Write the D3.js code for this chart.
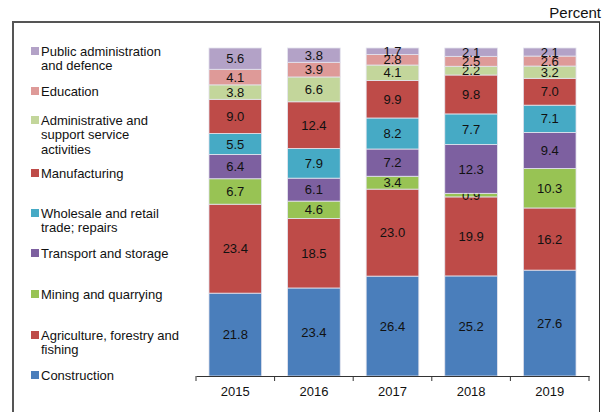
<!DOCTYPE html>
<html>
<head>
<meta charset="utf-8">
<script src="https://cdn.jsdelivr.net/npm/d3@7"></script>
<style>
  body { margin: 0; background: #fff; }
  text { font-family: "Liberation Sans", Arial, sans-serif; fill: #111; }
</style>
</head>
<body>
<svg id="chart" width="606" height="412"></svg>
<script>
// données
const years = ["2015", "2016", "2017", "2018", "2019"];

// de bas en haut dans la barre
const sectors = ["Construction", "Agriculture", "Mining", "Transport", "Wholesale",
  "Manufacturing", "Administrative", "Education", "PublicAdmin"];

const construction   = [21.8, 23.4, 26.4, 25.2, 27.6];
const agriculture    = [23.4, 18.5, 23.0, 19.9, 16.2];
const mining         = [6.7, 4.6, 3.4, 0.9, 10.3];
const transport      = [6.4, 6.1, 7.2, 12.3, 9.4];
const wholesale      = [5.5, 7.9, 8.2, 7.7, 7.1];
const manufacturing  = [9.0, 12.4, 9.9, 9.8, 7.0];
const administrative = [3.8, 6.6, 4.1, 2.2, 3.2];
const education      = [4.1, 3.9, 2.8, 2.5, 2.6];
const publicAdmin    = [5.6, 3.8, 1.7, 2.1, 2.1];

const series = [construction, agriculture, mining, transport, wholesale,
  manufacturing, administrative, education, publicAdmin];

// libellés de la légende (haut -> bas), une ligne par élément du tableau
const legendLabels = [
  ["Public administration", "and defence"],
  ["Education"],
  ["Administrative and", "support service", "activities"],
  ["Manufacturing"],
  ["Wholesale and retail", "trade; repairs"],
  ["Transport and storage"],
  ["Mining and quarrying"],
  ["Agriculture, forestry and", "fishing"],
  ["Construction"]
];

const colors = ["#4A7EBB", "#BE4B48", "#98C354", "#7D60A0", "#46AAC5",
  "#BE4B48", "#C3D69B", "#DE9A98", "#B3A2C7"];

// mise en page
const legendY = [51, 91, 120, 173, 213, 253, 294, 335, 375];

let svg = d3.select("#chart");

// cadre
svg.append("line").attr("x1", 13).attr("x2", 600).attr("y1", 22).attr("y2", 22)
  .attr("stroke", "#555").attr("stroke-width", 2);
svg.append("line").attr("x1", 13).attr("x2", 13).attr("y1", 21).attr("y2", 412)
  .attr("stroke", "#555").attr("stroke-width", 2);
svg.append("line").attr("x1", 599.5).attr("x2", 599.5).attr("y1", 22).attr("y2", 412)
  .attr("stroke", "#333").attr("stroke-width", 1);

svg.append("text").attr("x", 601).attr("y", 18).attr("text-anchor", "end")
  .style("font-size", "15px").text("Percent");

// tableau pour d3.stack
let table = years.map(function (y, i) {
  let row = { year: y };
  sectors.forEach(function (s, k) { row[s] = series[k][i]; });
  return row;
});

let stacked = d3.stack().keys(sectors).offset(d3.stackOffsetExpand)(table);

let x = d3.scaleBand().domain(years).range([196, 589]).paddingInner(0.33).paddingOuter(0.165);
let yScale = d3.scaleLinear().domain([0, 1]).range([376, 48]);

let groups = svg.selectAll("g.serie")
  .data(stacked)
  .enter().append("g")
  .attr("class", "serie")
  .attr("fill", function (d, i) { return colors[i]; });

groups.selectAll("rect")
  .data(function (d) { return d; })
  .enter().append("rect")
  .attr("x", function (d) { return x(d.data.year); })
  .attr("width", x.bandwidth())
  .attr("y", function (d) { return yScale(d[1]); })
  .attr("height", function (d) { return yScale(d[0]) - yScale(d[1]); })
  .attr("stroke", "#e4e4ee")
  .attr("stroke-width", 0.8);

groups.selectAll("text")
  .data(function (d) { return d.map(function (p) { return { p: p, key: d.key }; }); })
  .enter().append("text")
  .attr("x", function (d) { return x(d.p.data.year) + x.bandwidth() / 2; })
  .attr("y", function (d) { return (yScale(d.p[0]) + yScale(d.p[1])) / 2; })
  .attr("dy", "0.36em")
  .attr("text-anchor", "middle")
  .style("font-size", "13px")
  .text(function (d) { return d.p.data[d.key].toFixed(1); });

// axe des x
let xAxis = d3.axisBottom(x).tickSize(0).tickPadding(11);
let gx = svg.append("g").attr("transform", "translate(0,376)").call(xAxis);
gx.select(".domain").attr("stroke", "#333");
gx.selectAll("text").style("font-size", "13px").attr("fill", "#111");

// petits traits entre les catégories
let bounds = d3.range(years.length + 1).map(function (i) {
  return x.range()[0] + i * x.step() + (i === 0 ? 0 : x.step() * x.paddingOuter() * 0);
});
bounds = d3.range(years.length + 1).map(function (i) { return 196 + i * (589 - 196) / years.length; });
svg.selectAll("line.tick")
  .data(bounds)
  .enter().append("line")
  .attr("class", "tick")
  .attr("x1", function (d) { return d; })
  .attr("x2", function (d) { return d; })
  .attr("y1", 376).attr("y2", 381)
  .attr("stroke", "#333");

// légende
let legend = svg.selectAll("g.legend")
  .data(legendLabels)
  .enter().append("g")
  .attr("class", "legend")
  .attr("transform", function (d, i) { return "translate(31," + legendY[i] + ")"; });

legend.append("rect")
  .attr("x", 0).attr("y", -4).attr("width", 8).attr("height", 8)
  .attr("fill", function (d, i) { return colors[colors.length - 1 - i]; });

legend.each(function (lines) {
  let t = d3.select(this).append("text").attr("x", 10).attr("y", 0).style("font-size", "13px");
  lines.forEach(function (l, j) {
    t.append("tspan").attr("x", 10).attr("y", j * 14.5).attr("dy", "0.36em").text(l);
  });
});
</script>
</body>
</html>
